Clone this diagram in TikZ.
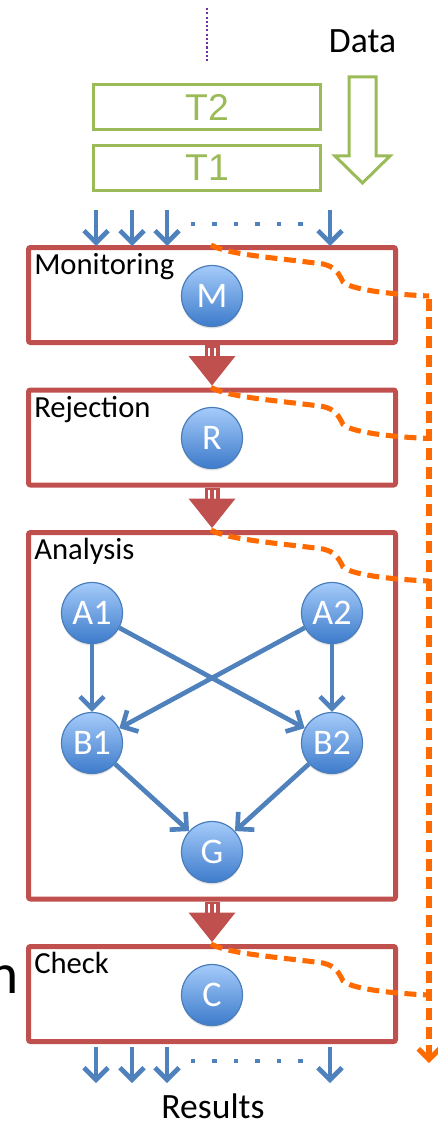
\documentclass[tikz,border=0pt]{standalone}
\usepackage{fontspec}
\setmainfont{Carlito}
\newfontfamily\arialfont{Liberation Sans}
\usetikzlibrary{arrows.meta,calc,fit,shadows}

\definecolor{stageRed}{HTML}{C0504D}
\definecolor{flowBlue}{HTML}{4F81BD}
\definecolor{ballTop}{HTML}{A5CBFA}
\definecolor{ballBot}{HTML}{3D7BCB}
\definecolor{ballRim}{HTML}{4A7EBB}
\definecolor{tierGreen}{HTML}{9BBB59}
\definecolor{pathOrange}{HTML}{FF6A00}
\definecolor{markPurple}{HTML}{7030A0}

% red hollow-shaft arrow between two stage boxes
\newcommand\stagearrow[2]{%
  \fill[stageRed] ($(#1.south)+(-7.5,0)$) rectangle ($(#2.north)+(7.5,-31)$);
  \draw[white, line width=1.5pt] ($(#1.south)+(-2.7,2.6)$) -- ($(#2.north)+(-2.7,-31)$);
  \draw[white, line width=1.5pt] ($(#1.south)+(2.7,2.6)$) -- ($(#2.north)+(2.7,-31)$);
  \fill[stageRed] ($(#2.north)+(-23.5,-31.5)$) -- ($(#2.north)+(23.5,-31.5)$) -- ($(#2.north)+(0,-2)$) -- cycle;
}
% orange dashed trace leaving a stage towards the side rail
\newcommand\tracefrom[1]{%
  \draw[trace] ($(#1.north)+(-1,0)$) .. controls +(18,10) and +(-45,-6) .. ++(112,19)
    .. controls +(12,3) and +(-5,-10) .. ++(20,18)
    .. controls +(8,7) and +(-45,-2) .. ++(86,14);
}

\begin{document}
\begin{tikzpicture}[x=0.75pt,y=-0.75pt,
  stagebox/.style={draw=stageRed, line width=3.75pt, rounded corners=1.5pt, inner sep=0pt},
  stagelabel/.style={anchor=base west, inner sep=0pt, font=\fontsize{23}{23}\selectfont},
  ball/.style={circle, minimum size=45.75pt, inner sep=0pt, draw=ballRim, line width=0.9pt,
    top color=ballTop, bottom color=ballBot, text=white, font=\fontsize{27}{27}\selectfont,
    drop shadow={opacity=0.22, shadow xshift=0pt, shadow yshift=-1.5pt}},
  link/.style={draw=flowBlue, line width=3.5pt, -{Straight Barb[length=9pt,width=18pt]}},
  tier/.style={draw=tierGreen, line width=2.25pt, minimum width=170.25pt, minimum height=33.75pt,
    inner sep=0pt, text=tierGreen, font=\arialfont\fontsize{28}{28}\selectfont},
  trace/.style={draw=pathOrange, line width=3.8pt, dash pattern=on 9pt off 5pt},
  bigtext/.style={inner sep=0pt, font=\fontsize{26.7}{26.7}\selectfont}]
\useasboundingbox (0,0) rectangle (438,1123);

% incoming data
\draw[markPurple, line width=1.8pt, dash pattern=on 1.6pt off 1.6pt] (207,8) -- (207,63);
\node[bigtext, anchor=base] (data) at (362.5,53) {Data};
\draw[tierGreen, line width=2.25pt, line join=miter]
  (349,77) -- (376,77) -- (376,156) -- (390,156) -- (362.5,183) -- (335,156) -- (349,156) -- cycle;
\node[tier] (t2) at (207,107.5) {T2};
\node[tier] (t1) at (207,168) {T1};

% stage boxes
\node[stagebox, fit={(28.5,247.5) (395.5,342.5)}] (mon) {};
\node[stagebox, fit={(28.5,390) (395.5,485)}] (rej) {};
\node[stagebox, fit={(28.5,532.5) (395.5,899)}] (ana) {};
\node[stagebox, fit={(28.5,946.5) (395.5,1041.5)}] (chk) {};

\node[stagelabel] at ($(mon.north west)+(8,29.5)$) {Monitoring};
\node[stagelabel] at ($(rej.north west)+(8,30)$) {Rejection};
\node[stagelabel] at ($(ana.north west)+(8,29.5)$) {Analysis};
\node[stagelabel] at ($(chk.north west)+(8,29.5)$) {Check};

% partly visible word at the left edge
\node[anchor=base east, inner sep=0pt, font=\fontsize{43}{43}\selectfont] (cut) at (19,993) {n};

% input and output arrow rows
\foreach \x in {96,132,167,330} {
  \draw[link] (\x,210) -- (\x,246);
  \draw[link] (\x,1047) -- (\x,1083);
}
\foreach \x in {193,214.5,236,257.5,279,300.5} {
  \fill[flowBlue] (\x-2.3,221.7) rectangle (\x+2.3,226.3);
  \fill[flowBlue] (\x-2.3,1058.7) rectangle (\x+2.3,1063.3);
}
\node[bigtext, anchor=base] (results) at (213,1118.5) {Results};

% stage transitions
\stagearrow{mon}{rej}
\stagearrow{rej}{ana}
\stagearrow{ana}{chk}

% processing nodes
\node[ball] (m) at (212,296) {M};
\node[ball] (r) at (212,438) {R};
\node[ball] (c) at (212,995) {C};
\node[ball] (a1) at (92,613) {A1};
\node[ball] (a2) at (332,613) {A2};
\node[ball] (b1) at (92,743) {B1};
\node[ball] (b2) at (332,743) {B2};
\node[ball] (g) at (212,852) {G};

\draw[link] (a1) -- (b1);
\draw[link] (a2) -- (b2);
\draw[link] (a1) -- (b2);
\draw[link] (a2) -- (b1);
\draw[link] (b1) -- (g);
\draw[link] (b2) -- (g);

% orange traces and side rail
\tracefrom{mon}
\tracefrom{rej}
\tracefrom{ana}
\tracefrom{chk}
\coordinate (railtop) at (429,298.5);
\coordinate (railend) at (429,1063);
\draw[trace, -{Straight Barb[length=8pt,width=16pt]}] (railtop) -- (railend);
\end{tikzpicture}
\end{document}
